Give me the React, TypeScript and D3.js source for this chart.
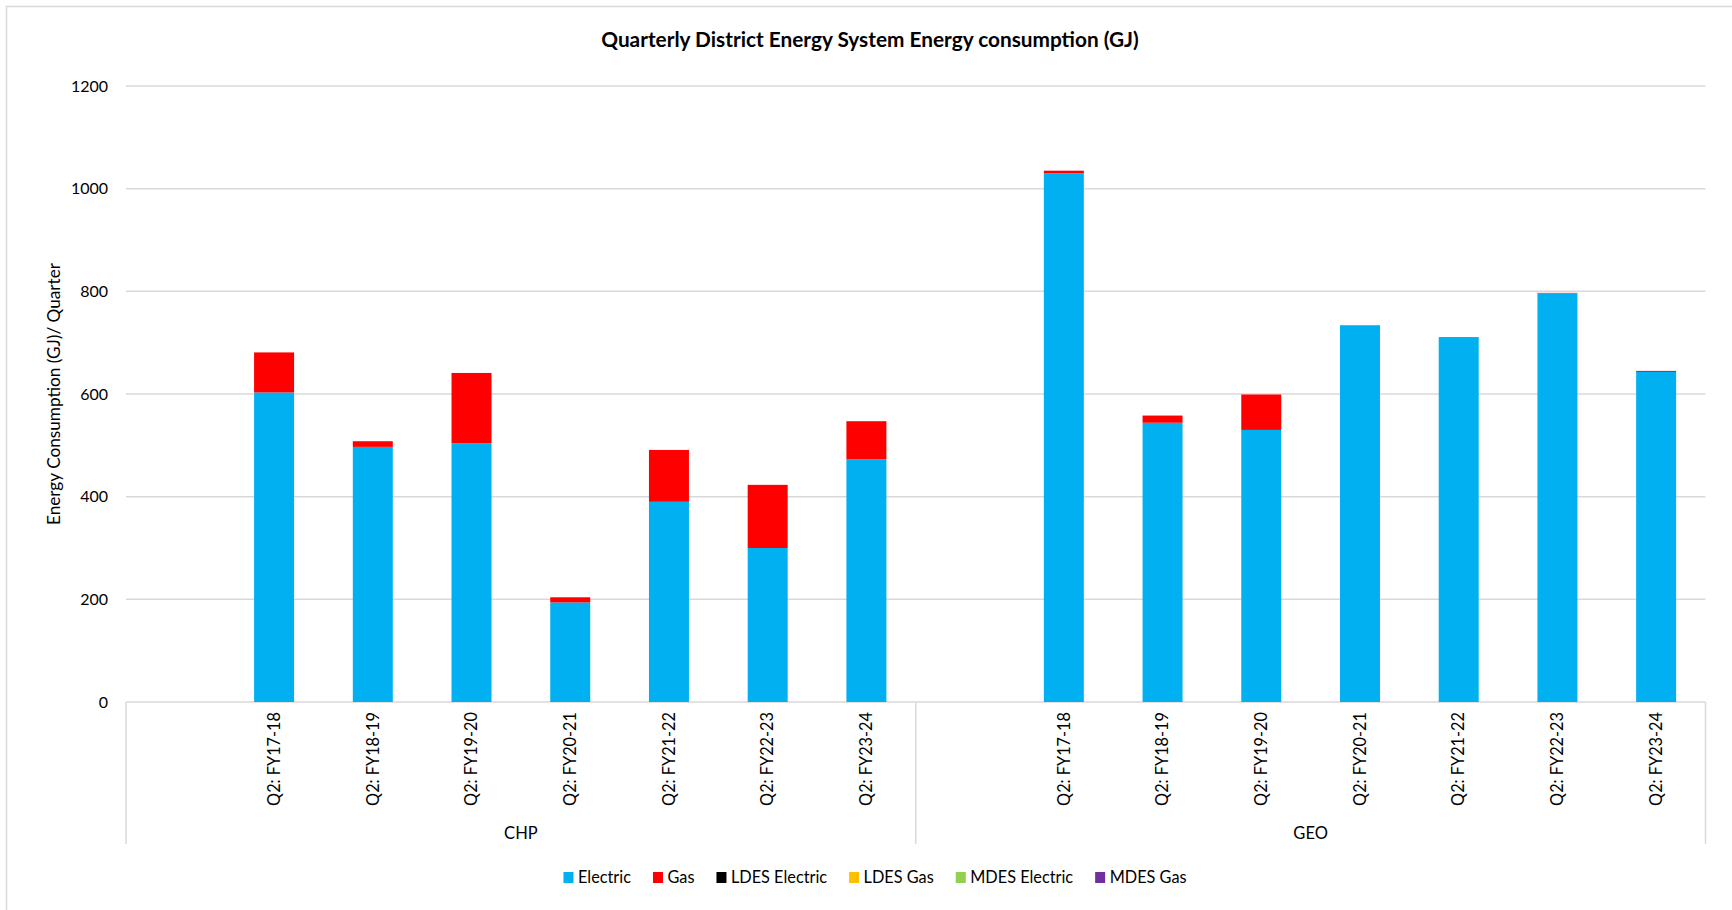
import React, { useEffect, useRef } from "react";
import * as d3 from "d3";

// Category structure: two plant groups, each with the same set of quarters.
const groups = ["CHP", "GEO"];
const quarters = [
  "Q2: FY17-18",
  "Q2: FY18-19",
  "Q2: FY19-20",
  "Q2: FY20-21",
  "Q2: FY21-22",
  "Q2: FY22-23",
  "Q2: FY23-24",
];

// Energy consumption per quarter (GJ)
const chpElectric = [603, 497, 504, 194, 390, 300, 473];
const chpGas = [78, 11, 137, 10, 101, 123, 74];
const geoElectric = [1030, 544, 530, 734, 710, 796, 643];
const geoGas = [5, 14, 69, 0, 1, 1, 2];
// Series that are reported but carry no consumption in these quarters
const zeroSeries = [0, 0, 0, 0, 0, 0, 0];

const seriesNames = ["Electric", "Gas", "LDES Electric", "LDES Gas", "MDES Electric", "MDES Gas"];
const seriesColors = ["#00B0F0", "#FF0000", "#000000", "#FFC000", "#92D050", "#7030A0"];

const yTicks = [0, 200, 400, 600, 800, 1000, 1200];

const chartTitle = "Quarterly District Energy System Energy consumption (GJ)";
const yAxisTitle = "Energy Consumption (GJ)/ Quarter";

const W = 1732;
const H = 910;
const FONT = "Lato, 'Open Sans', sans-serif";
const GRID = "#d9d9d9";

type Row = { key: string; group: string; quarter: string; [k: string]: any };

function buildRows(): Row[] {
  const byGroup: Record<string, number[][]> = {
    CHP: [chpElectric, chpGas, zeroSeries, zeroSeries, zeroSeries, zeroSeries],
    GEO: [geoElectric, geoGas, zeroSeries, zeroSeries, zeroSeries, zeroSeries],
  };
  const rows: Row[] = [];
  groups.forEach((g) => {
    // leading blank category inside each group
    const spacer: Row = { key: `${g}|`, group: g, quarter: "" };
    seriesNames.forEach((s) => (spacer[s] = 0));
    rows.push(spacer);
    quarters.forEach((q, i) => {
      const r: Row = { key: `${g}|${q}`, group: g, quarter: q };
      seriesNames.forEach((s, si) => (r[s] = byGroup[g][si][i]));
      rows.push(r);
    });
  });
  return rows;
}

export default function App() {
  const ref = useRef<SVGSVGElement | null>(null);

  useEffect(() => {
    const svg = d3.select(ref.current);
    svg.selectAll("*").remove();

    const plot = { left: 126, right: 1705.5, top: 86, bottom: 702 };
    const rows = buildRows();

    const x = d3
      .scaleBand<string>()
      .domain(rows.map((r) => r.key))
      .range([plot.left, plot.right])
      .paddingInner(0.595)
      .paddingOuter(0.2975);

    const y = d3.scaleLinear().domain([0, 1200]).range([plot.bottom, plot.top]);

    svg.append("rect").attr("x", 0).attr("y", 0).attr("width", W).attr("height", H).attr("fill", "#fff");
    svg
      .append("rect")
      .attr("x", 6.5)
      .attr("y", 6.5)
      .attr("width", W + 20)
      .attr("height", H + 20)
      .attr("fill", "none")
      .attr("stroke", GRID)
      .attr("stroke-width", 1.5);

    // horizontal gridlines
    svg
      .append("g")
      .selectAll("line")
      .data(yTicks)
      .join("line")
      .attr("x1", plot.left)
      .attr("x2", plot.right)
      .attr("y1", (d) => y(d))
      .attr("y2", (d) => y(d))
      .attr("stroke", GRID)
      .attr("stroke-width", 1.5);

    // group dividers on the category axis
    const step = x.step();
    const perGroup = quarters.length + 1;
    const dividers = d3.range(groups.length + 1).map((i) => plot.left + i * perGroup * step);
    svg
      .append("g")
      .selectAll("line")
      .data(dividers)
      .join("line")
      .attr("x1", (d) => d)
      .attr("x2", (d) => d)
      .attr("y1", plot.bottom)
      .attr("y2", 844)
      .attr("stroke", GRID)
      .attr("stroke-width", 1.5);

    // stacked bars
    const stack = d3.stack<Row>().keys(seriesNames);
    const layers = stack(rows);
    const color = d3.scaleOrdinal<string, string>().domain(seriesNames).range(seriesColors);
    svg
      .append("g")
      .selectAll("g")
      .data(layers)
      .join("g")
      .attr("fill", (d) => color(d.key))
      .selectAll("rect")
      .data((d) => d.filter((p) => p[1] - p[0] > 0))
      .join("rect")
      .attr("x", (d) => x(d.data.key) as number)
      .attr("width", x.bandwidth())
      .attr("y", (d) => y(d[1]))
      .attr("height", (d) => y(d[0]) - y(d[1]));

    // y tick labels
    svg
      .append("g")
      .selectAll("text")
      .data(yTicks)
      .join("text")
      .attr("x", 108)
      .attr("y", (d) => y(d))
      .attr("dy", "0.35em")
      .attr("text-anchor", "end")
      .attr("font-family", FONT)
      .attr("font-size", 16)
      .attr("fill", "#000")
      .text((d) => d);

    // rotated quarter labels
    svg
      .append("g")
      .selectAll("text")
      .data(rows.filter((r) => r.quarter))
      .join("text")
      .attr("transform", (d) => `translate(${(x(d.key) as number) + x.bandwidth() / 2},${712}) rotate(-90)`)
      .attr("dy", "0.35em")
      .attr("text-anchor", "end")
      .attr("font-family", FONT)
      .attr("font-size", 16.3)
      .attr("fill", "#000")
      .text((d) => d.quarter);

    // group labels
    svg
      .append("g")
      .selectAll("text")
      .data(groups)
      .join("text")
      .attr("x", (_, i) => (dividers[i] + dividers[i + 1]) / 2)
      .attr("y", 839)
      .attr("text-anchor", "middle")
      .attr("font-family", FONT)
      .attr("font-size", 16.5)
      .attr("fill", "#000")
      .text((d) => d);

    // title
    svg
      .append("text")
      .attr("x", 870)
      .attr("y", 47)
      .attr("text-anchor", "middle")
      .attr("font-family", FONT)
      .attr("font-size", 20.8)
      .attr("font-weight", "bold")
      .attr("fill", "#000")
      .text(chartTitle);

    // y axis title
    svg
      .append("text")
      .attr("transform", `translate(54,${394}) rotate(-90)`)
      .attr("dy", "0.35em")
      .attr("text-anchor", "middle")
      .attr("font-family", FONT)
      .attr("font-size", 17.2)
      .attr("fill", "#000")
      .text(yAxisTitle);

    // legend, laid out from measured label widths and centred
    const legend = svg.append("g");
    const items = seriesNames.map((name, i) => {
      const g = legend.append("g");
      g.append("rect").attr("width", 10).attr("height", 11).attr("y", -5.5).attr("fill", seriesColors[i]);
      const t = g
        .append("text")
        .attr("x", 14.5)
        .attr("dy", "0.35em")
        .attr("font-family", FONT)
        .attr("font-size", 16.3)
        .attr("fill", "#000")
        .text(name);
      const w = 14.5 + (t.node() as SVGTextElement).getComputedTextLength();
      return { g, w };
    });
    const gap = 22;
    const total = d3.sum(items, (d) => d.w) + gap * (items.length - 1);
    let cx = 875 - total / 2;
    items.forEach((it) => {
      it.g.attr("transform", `translate(${cx},${877.5})`);
      cx += it.w + gap;
    });
  }, []);

  return (
    <svg
      ref={ref}
      width={W}
      height={H}
      style={{ position: "absolute", left: 0, top: 0, display: "block" }}
    />
  );
}
